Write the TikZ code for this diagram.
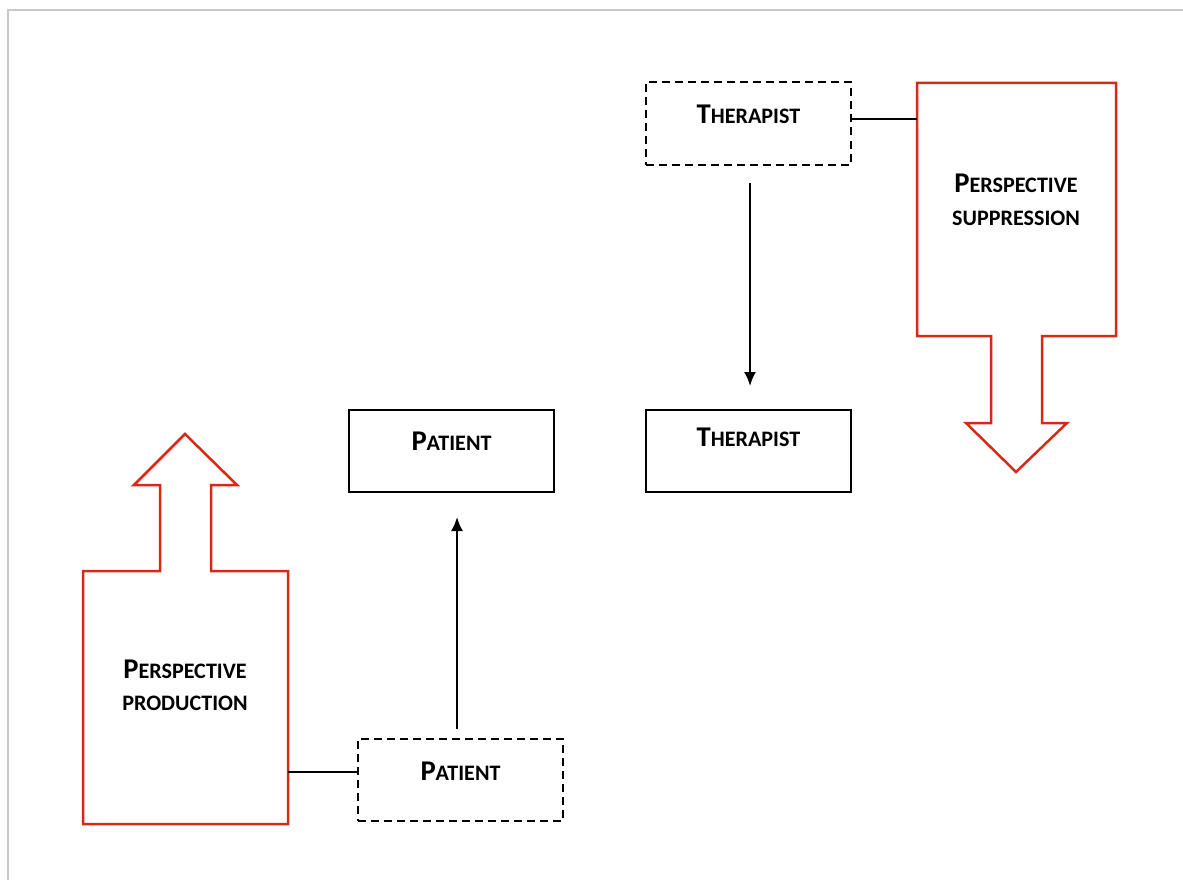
\documentclass[tikz,border=0pt]{standalone}
\usepackage{fontspec}
\setmainfont{Carlito}
\usetikzlibrary{arrows.meta}
\definecolor{redline}{RGB}{214,42,22}
\definecolor{framegray}{RGB}{200,200,200}
\newcommand{\fsc}[2]{{\fontsize{28.6}{32}\selectfont #1}{\fontsize{22.1}{26}\selectfont #2}}
\tikzset{
  solidbox/.style={draw=black, line width=2pt, minimum width=205pt, minimum height=82pt, inner sep=0pt},
  dashbox/.style={draw=black, line width=2pt, dash pattern=on 8pt off 5pt, minimum width=205pt, minimum height=82pt, inner sep=0pt},
  lbl/.style={font=\bfseries, inner sep=0pt, align=center},
  redshape/.style={draw=redline, line width=2.5pt, line join=miter},
  conn/.style={draw=black, line width=2pt},
  arr/.style={draw=black, line width=2pt, -{Latex[length=14pt,width=12pt]}}
}
\begin{document}
\begin{tikzpicture}[x=1pt,y=-1pt]
\useasboundingbox (0,0) rectangle (1183,880);
% frame
\draw[framegray, line width=1.2pt] (8,880) -- (8,10) -- (1183,10);

% boxes
\node[dashbox] (thD) at (748.5,123.5) {};
\node[lbl] (thDt) at (748.5,114) {\fsc{T}{HERAPIST}};
\node[solidbox] (pat) at (451.5,451) {};
\node[lbl] (patt) at (451.5,441) {\fsc{P}{ATIENT}};
\node[solidbox] (thS) at (748.5,451) {};
\node[lbl] (thSt) at (748.5,437) {\fsc{T}{HERAPIST}};
\node[dashbox] (patD) at (460.5,780) {};
\node[lbl] (patDt) at (460.5,771) {\fsc{P}{ATIENT}};

% red arrow shapes
\draw[redshape] (917,83) -- (1116,83) -- (1116,336) -- (1042,336) -- (1042,423) -- (1067,423)
  -- (1016,472) -- (966,423) -- (991,423) -- (991,336) -- (917,336) -- cycle;
\coordinate (supL) at (917,119);
\node[lbl] (supt1) at (1016,183) {\fsc{P}{ERSPECTIVE}};
\node[lbl] (supt2) at (1016,218) {\fsc{}{SUPPRESSION}};

\draw[redshape] (83,824) -- (288,824) -- (288,571) -- (211,571) -- (211,485) -- (237,485)
  -- (185,434) -- (134,485) -- (160,485) -- (160,571) -- (83,571) -- cycle;
\coordinate (proR) at (288,772);
\node[lbl] (prot1) at (185,669) {\fsc{P}{ERSPECTIVE}};
\node[lbl] (prot2) at (185,703) {\fsc{}{PRODUCTION}};

% connectors
\draw[conn] (thD.east |- supL) -- (supL);
\draw[conn] (proR) -- (patD.west |- proR);
\coordinate (a1s) at (750,183);
\coordinate (a1e) at (750,386);
\draw[arr] (a1s) -- (a1e);
\coordinate (a2s) at (457,729);
\coordinate (a2e) at (457,517);
\draw[arr] (a2s) -- (a2e);
\end{tikzpicture}
\end{document}
